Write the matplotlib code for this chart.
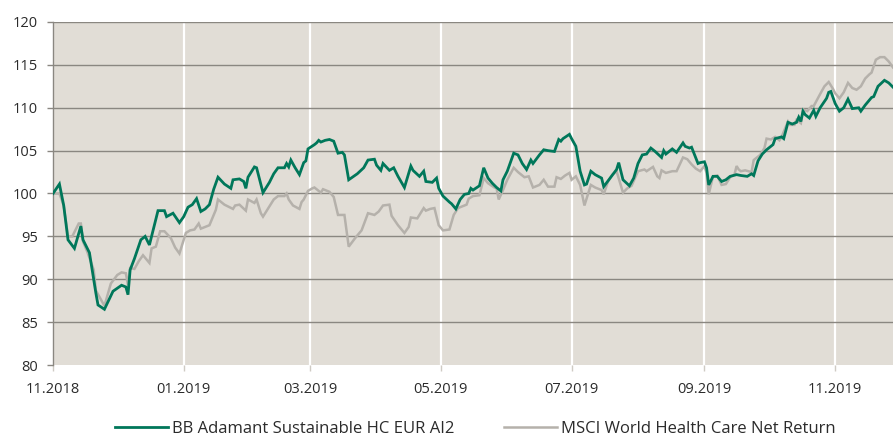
import pandas as pd
import matplotlib
matplotlib.use("Agg")
import matplotlib.pyplot as plt
import matplotlib.dates as mdates

# Performance indexed to 100.
# Day offsets are counted from 01.11.2018.
start = pd.Timestamp("2018-11-01")
end_day = 392

fund_label = "BB Adamant Sustainable HC EUR AI2"
bench_label = "MSCI World Health Care Net Return"

fund_days = [0, 3, 5, 7, 10, 13, 14, 17, 20, 21,
             24, 28, 32, 34, 35, 36, 38, 41, 43, 45,
             47, 49, 52, 53, 56, 59, 61, 63, 65, 67,
             69, 71, 73, 75, 77, 80, 83, 84, 87, 89,
             90, 91, 94, 95, 98, 101, 103, 105, 108, 109,
             110, 111, 113, 115, 117, 118, 119, 122, 123, 124,
             125, 127, 129, 131, 133, 135, 136, 138, 142, 145,
             147, 150, 151, 153, 154, 157, 159, 161, 164, 167,
             168, 171, 173, 174, 177, 179, 180, 182, 185, 186,
             188, 190, 192, 194, 195, 196, 199, 201, 203, 205,
             207, 209, 210, 212, 215, 217, 219, 221, 223, 224,
             227, 229, 231, 234, 236, 237, 238, 241, 242, 244,
             246, 248, 249, 251, 253, 256, 257, 260, 263, 264,
             266, 269, 271, 273, 275, 277, 279, 281, 284, 285,
             286, 289, 291, 294, 295, 297, 298, 301, 302, 304,
             305, 306, 308, 310, 312, 314, 316, 319, 321, 324,
             326, 327, 329, 331, 333, 334, 336, 337, 340, 341,
             343, 345, 347, 348, 349, 350, 351, 353, 355, 356,
             358, 361, 362, 363, 365, 367, 369, 371, 373, 376,
             377, 379, 382, 383, 385, 388, 390, 392]
fund_vals = [100.0, 101.1, 98.6, 94.6, 93.6, 96.2, 94.6, 93.1, 88.4, 87.0,
             86.5, 88.6, 89.3, 89.1, 88.2, 91.1, 92.4, 94.6, 95.0, 94.0,
             96.0, 98.0, 98.0, 97.3, 97.7, 96.6, 97.3, 98.4, 98.7, 99.4,
             97.9, 98.2, 98.7, 100.5, 101.9, 101.1, 100.6, 101.6, 101.7, 101.4,
             100.6, 101.9, 103.1, 103.0, 100.1, 101.3, 102.3, 103.0, 103.0, 103.5,
             103.1, 103.9, 103.0, 102.2, 103.6, 103.8, 105.2, 105.7, 105.9, 106.2,
             106.0, 106.2, 106.3, 106.1, 104.7, 104.8, 104.5, 101.6, 102.3, 103.0,
             103.9, 104.0, 103.3, 102.7, 103.5, 102.7, 103.0, 102.0, 100.7, 103.2,
             102.7, 102.0, 102.6, 101.4, 101.3, 101.8, 100.6, 99.7, 99.0, 98.8,
             98.2, 99.3, 99.9, 100.0, 100.6, 100.4, 100.9, 103.0, 101.8, 101.2,
             100.7, 100.3, 101.6, 102.6, 104.7, 104.5, 103.5, 102.8, 103.9, 103.5,
             104.5, 105.1, 105.0, 104.9, 106.3, 106.1, 106.4, 106.9, 106.4, 105.5,
             102.6, 101.0, 101.1, 102.6, 102.2, 101.8, 100.8, 101.8, 102.8, 103.6,
             101.6, 100.9, 101.8, 103.5, 104.5, 104.6, 105.3, 104.9, 104.2, 105.0,
             104.6, 105.2, 104.8, 105.9, 105.5, 105.3, 105.4, 103.5, 103.6, 103.7,
             103.0, 101.0, 102.0, 102.0, 101.4, 101.6, 102.0, 102.2, 102.1, 102.0,
             102.3, 102.1, 103.8, 104.6, 105.1, 105.3, 105.7, 106.4, 106.6, 106.4,
             108.3, 108.1, 108.3, 108.9, 108.4, 109.6, 109.2, 108.8, 109.7, 109.0,
             110.0, 111.1, 111.8, 111.9, 110.5, 109.6, 110.0, 111.0, 109.9, 110.0,
             109.6, 110.3, 111.2, 111.3, 112.5, 113.2, 112.9, 112.4]

bench_days = [0, 3, 5, 7, 9, 12, 13, 14, 16, 19,
              20, 24, 27, 30, 32, 34, 35, 36, 38, 40,
              42, 45, 46, 48, 50, 52, 55, 57, 59, 62,
              64, 66, 68, 69, 73, 75, 76, 77, 80, 84,
              85, 87, 90, 91, 94, 95, 97, 98, 101, 103,
              105, 108, 109, 110, 112, 115, 116, 117, 119, 121,
              122, 125, 126, 129, 131, 133, 136, 138, 141, 144,
              147, 150, 152, 154, 157, 158, 161, 164, 166, 167,
              170, 173, 174, 176, 178, 180, 182, 185, 187, 189,
              193, 194, 196, 199, 201, 203, 206, 207, 208, 210,
              212, 215, 217, 220, 222, 224, 227, 229, 231, 234,
              235, 237, 239, 241, 242, 244, 246, 248, 249, 251,
              253, 256, 257, 259, 261, 263, 266, 268, 270, 273,
              276, 277, 280, 282, 283, 284, 286, 289, 291, 294,
              296, 298, 300, 302, 304, 305, 306, 308, 310, 312,
              314, 316, 318, 319, 320, 321, 323, 326, 327, 330,
              332, 333, 335, 337, 339, 340, 343, 344, 346, 347,
              349, 350, 352, 354, 355, 358, 360, 362, 364, 365,
              367, 369, 371, 373, 375, 377, 379, 381, 382, 384,
              386, 388, 390, 392]
bench_vals = [100.0, 100.0, 98.6, 95.0, 95.0, 96.5, 96.5, 94.4, 93.2, 91.1,
              88.7, 86.9, 89.5, 90.5, 90.8, 90.7, 89.3, 91.3, 91.2, 92.1,
              92.8, 91.9, 93.6, 93.8, 95.6, 95.6, 94.8, 93.7, 93.0, 95.4,
              95.7, 95.8, 96.5, 95.9, 96.3, 97.5, 98.1, 99.3, 98.7, 98.2,
              98.6, 98.7, 98.0, 99.3, 98.9, 99.3, 97.7, 97.3, 98.5, 99.3,
              99.7, 99.7, 100.0, 99.3, 98.6, 98.2, 99.0, 99.3, 100.3, 100.6,
              100.7, 100.1, 100.5, 100.2, 99.6, 97.5, 97.5, 93.8, 94.8, 95.7,
              97.7, 97.5, 97.9, 98.6, 98.7, 97.4, 96.3, 95.4, 96.1, 97.2,
              97.1, 98.3, 98.0, 98.2, 98.3, 96.3, 95.7, 95.8, 97.5, 98.3,
              98.7, 99.4, 99.7, 99.8, 101.8, 101.2, 100.7, 100.6, 99.3, 100.4,
              101.6, 103.0, 102.5, 101.9, 102.0, 100.7, 101.0, 101.6, 100.8, 100.8,
              101.9, 101.7, 102.1, 102.4, 101.6, 102.0, 101.0, 98.6, 99.4, 101.0,
              100.7, 100.4, 99.9, 101.4, 102.2, 102.6, 100.1, 100.6, 100.9, 102.6,
              102.8, 102.6, 103.1, 102.0, 101.8, 102.7, 102.4, 102.6, 102.6, 104.2,
              104.0, 103.4, 102.9, 102.6, 103.2, 102.4, 99.9, 102.0, 102.1, 101.0,
              101.1, 101.9, 102.2, 103.2, 102.8, 102.6, 102.7, 102.5, 103.9, 104.5,
              105.3, 106.4, 106.3, 106.6, 106.2, 106.6, 108.4, 108.0, 108.0, 108.6,
              108.2, 109.8, 109.6, 110.2, 110.2, 111.6, 112.5, 113.0, 112.2, 111.7,
              111.1, 111.8, 112.9, 112.3, 112.1, 112.5, 113.4, 113.9, 114.1, 115.6,
              115.9, 115.9, 115.4, 114.7]

y_ticks = [80, 85, 90, 95, 100, 105, 110, 115, 120]

fund_dates = start + pd.to_timedelta(fund_days, unit="D")
bench_dates = start + pd.to_timedelta(bench_days, unit="D")

plt.rcParams['font.family'] = ['Open Sans', 'DejaVu Sans']

green = "#00775a"
grey = "#b5b1ab"
bg = "#e1ddd6"
grid_col = "#8a8781"
text_col = "#2b2b2b"

fig = plt.figure(figsize=(8.93, 4.40), dpi=100)
ax = fig.add_axes([53 / 893, 1 - 365 / 440, 1 - 53 / 893, (365 - 22) / 440])
ax.set_facecolor(bg)

for v in y_ticks[1:]:
    ax.axhline(v, color=grid_col, lw=1.0, zorder=1)
ax.xaxis.grid(True, color="white", lw=1.6, zorder=1)
ax.set_axisbelow(True)

ax.plot(fund_dates, fund_vals, color=green, lw=2.0, label=fund_label,
        zorder=3, solid_joinstyle="miter")
ax.plot(bench_dates, bench_vals, color=grey, lw=1.8, label=bench_label,
        zorder=2, solid_joinstyle="miter")

ax.set_xlim(start, start + pd.Timedelta(days=end_day))
ax.set_ylim(80, 120)
ax.set_yticks(y_ticks)
ax.xaxis.set_major_locator(mdates.MonthLocator(bymonth=[1, 3, 5, 7, 9, 11]))
ax.xaxis.set_major_formatter(mdates.DateFormatter("%m.%Y"))

for s in ["top", "right", "bottom"]:
    ax.spines[s].set_visible(False)
ax.spines["left"].set_color(grid_col)
ax.spines["left"].set_linewidth(1.0)

ax.tick_params(axis="y", length=4, width=1.0, color=grid_col, pad=7,
               labelsize=10.5, labelcolor=text_col)
ax.tick_params(axis="x", length=4, width=1.0, color="#cfcbc4", pad=8,
               labelsize=10.5, labelcolor=text_col)

fig.legend(loc="lower center", bbox_to_anchor=(0.532, -0.028), ncol=2,
           frameon=False, fontsize=12, handlelength=3.2, handletextpad=0.2,
           columnspacing=3.0, labelcolor=text_col)

fig.savefig("out.png", dpi=100)
